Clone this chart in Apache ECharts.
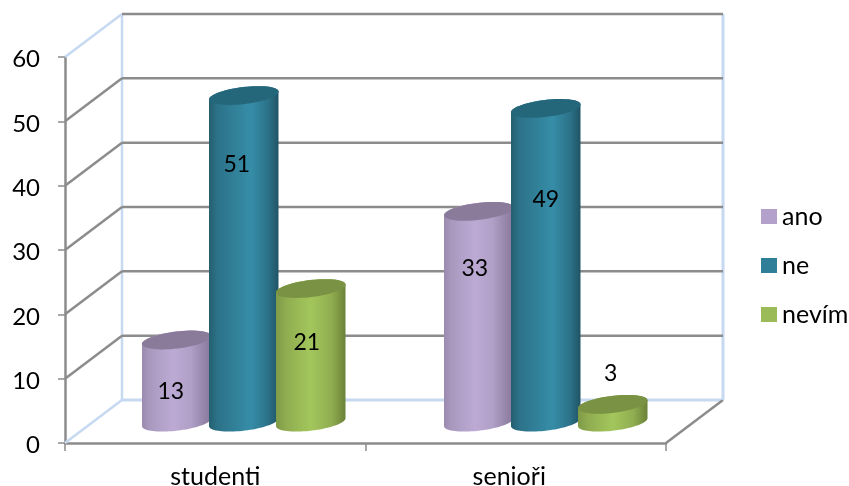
<!DOCTYPE html>
<html><head><meta charset="utf-8">
<style>html,body{margin:0;padding:0;background:#fff}#c{width:849px;height:486px}</style>
<script src="https://cdn.jsdelivr.net/npm/echarts@6/dist/echarts.min.js"></script>
</head><body><div id="c"></div>
<script>
const categories = ['studenti', 'senioři'];
const seriesNames = ['ano', 'ne', 'nevím'];
const ano = [13, 33];
const ne = [51, 49];
const nevim = [21, 3];
const yTicks = [0, 10, 20, 30, 40, 50, 60];

// styling and projection, kept apart from the data
const FONT = 'Lato';
const DEPTH_X = 57, DEPTH_Y = 43;
const BAR_DX = 0.5 * DEPTH_X, BAR_DY = 0.45 * DEPTH_Y;
const RX = 35, RY = 8.5, TILT = -0.12, STEP = 67;
const GREY = '#8c8c8c', WALL = '#c6d9f1';
const palettes = [
  {legend:'#b3a1cb', cap:'#8a7b9b', stops:[[0,'#9a8aae'],[0.1,'#a898bd'],[0.45,'#bcaad4'],[0.7,'#b09fc6'],[1,'#87779a']]},
  {legend:'#2f7f98', cap:'#25677a', stops:[[0,'#245f70'],[0.12,'#2c7288'],[0.6,'#368da8'],[0.85,'#2c7288'],[1,'#1f5465']]},
  {legend:'#9bbb59', cap:'#7a9243', stops:[[0,'#7f9a48'],[0.15,'#90ad50'],[0.5,'#a3c65c'],[0.8,'#90ad50'],[1,'#6b8238']]}
];
// hand placement of the value labels relative to each cylinder's top
const labelNudge = [
  [[-6, 52], [-4, 57]],
  [[-7, 69], [0, 91]],
  [[-4, 54], [-2, -31]]
];

function ellipse(cx, cy, a0, a1, n) {
  const pts = [], c = Math.cos(TILT), s = Math.sin(TILT);
  for (let i = 0; i <= n; i++) {
    const t = a0 + (a1 - a0) * i / n;
    const ex = RX * Math.cos(t), ey = RY * Math.sin(t);
    pts.push([cx + ex * c - ey * s, cy + ex * s + ey * c]);
  }
  return pts;
}

function cylinder(si) {
  return function (params, api) {
    const cat = api.value(0), val = api.value(1);
    const base = api.coord([cat, 0]), top = api.coord([cat, val]);
    const cx = base[0] + BAR_DX + (si - 1) * STEP + cat * 1.5;
    const by = base[1] - BAR_DY - 1.5, ty = top[1] - BAR_DY;
    const p = palettes[si], n = labelNudge[si][cat];
    const body = ellipse(cx, ty, Math.PI, 2 * Math.PI, 24).concat(ellipse(cx, by, 0, Math.PI, 40));
    return {type: 'group', children: [
      {type: 'polygon', shape: {points: body}, style: {
        fill: new echarts.graphic.LinearGradient(0, 0, 1, 0, p.stops.map(s => ({offset: s[0], color: s[1]})))}},
      {type: 'polygon', shape: {points: ellipse(cx, ty, 0, 2 * Math.PI, 60)}, style: {fill: p.cap}},
      {type: 'text', x: cx + n[0], y: ty + n[1], style: {text: String(val), fill: '#000', font: '23px ' + FONT, align: 'center', verticalAlign: 'middle'}}
    ]};
  };
}

function frame(params, api) {
  const v = api.value(1), cs = params.coordSys;
  const L = cs.x, R = cs.x + cs.width, y = api.coord([0, v])[1];
  const line = (x1, y1, x2, y2, color, w) => ({type: 'line', shape: {x1, y1, x2, y2}, style: {stroke: color, lineWidth: w}});
  const bx = L + DEPTH_X, bR = R + DEPTH_X, by = y - DEPTH_Y;
  const kids = [];
  const edge = (v === 0 || v === yTicks[yTicks.length - 1]);
  kids.push(line(L, y, bx, by, edge ? WALL : GREY, 2.5));
  if (v === 0) {
    const h = api.coord([0, 0])[1] - api.coord([0, yTicks[yTicks.length - 1]])[1];
    kids.push(line(bx, by, bR, by, WALL, 3));
    kids.push(line(R, y, bR, by, GREY, 2.5));
    kids.push(line(bx, by, bx, by - h, WALL, 2.5));
    kids.push(line(bR, by, bR, by - h, WALL, 3));
  } else {
    kids.push(line(bx, by, bR, by, GREY, 2.5));
  }
  return {type: 'group', children: kids};
}

const chart = echarts.init(document.getElementById('c'), null, {renderer: 'canvas'});
chart.setOption({
  animation: false,
  backgroundColor: '#fff',
  textStyle: {fontFamily: FONT},
  grid: {left: 65, right: 183, top: 57, bottom: 43, containLabel: false, outerBoundsMode: 'none'},
  legend: {
    data: seriesNames, orient: 'vertical', left: 761, top: 204, padding: 0,
    icon: 'rect', itemWidth: 16, itemHeight: 15, itemGap: 24,
    textStyle: {fontFamily: FONT, fontSize: 25, color: '#000', lineHeight: 24}, selectedMode: false
  },
  xAxis: {
    type: 'category', data: categories, boundaryGap: true,
    axisLine: {lineStyle: {color: GREY, width: 2.5}},
    axisTick: {show: true, alignWithLabel: false, length: 8, lineStyle: {color: GREY, width: 1.5}},
    axisLabel: {color: '#000', fontSize: 25, fontFamily: FONT, margin: 21,
      formatter: v => v === categories[1] ? '{b|' + v + '}' : v,
      rich: {b: {fontSize: 25, fontFamily: FONT, color: '#000', padding: [0, 13, 0, 0]}}}
  },
  yAxis: {
    type: 'value', min: 0, max: 60, interval: 10,
    axisLine: {show: true, lineStyle: {color: GREY, width: 2.5}},
    axisTick: {show: true, length: 7, lineStyle: {color: GREY, width: 1.5}},
    axisLabel: {color: '#000', fontSize: 24, fontFamily: FONT, margin: 25,
      formatter: v => '{a|' + v + '}',
      rich: {a: {fontSize: 24, fontFamily: FONT, color: '#000', padding: [5, 0, 0, 0]}}},
    splitLine: {show: false}
  },
  series: [
    {type: 'custom', name: 'frame', coordinateSystem: 'cartesian2d', z: 1, silent: true,
     renderItem: frame, encode: {x: 0, y: 1}, data: yTicks.map(v => [0, v])}
  ].concat([ano, ne, nevim].map((vals, si) => ({
    type: 'custom', name: seriesNames[si], coordinateSystem: 'cartesian2d', z: 3 + si,
    itemStyle: {color: palettes[si].legend},
    renderItem: cylinder(si), encode: {x: 0, y: 1},
    data: vals.map((v, i) => [i, v])
  })))
});
</script></body></html>
